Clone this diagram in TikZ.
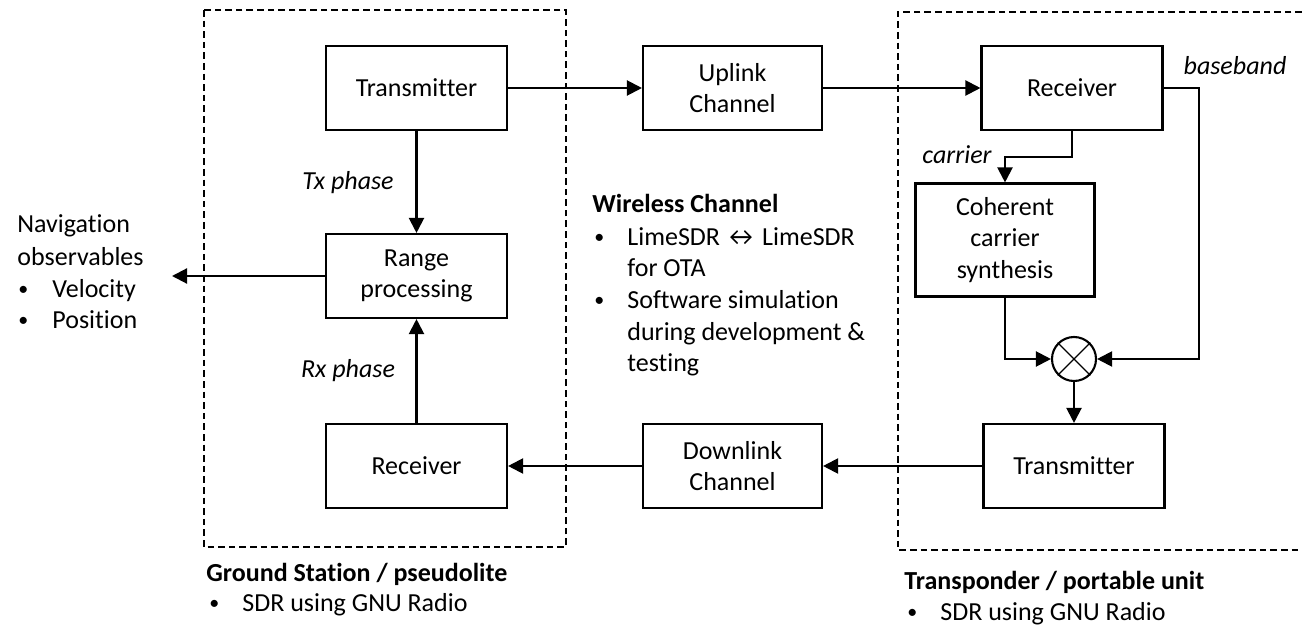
\documentclass[tikz,border=0pt]{standalone}
\usepackage{fontspec}
\setmainfont{Carlito}[Ligatures={NoCommon}]
\usetikzlibrary{arrows.meta}
\newcommand{\bul}{{\fontsize{10pt}{12pt}\selectfont\raisebox{0.6pt}{•}}}
\begin{document}
\begin{tikzpicture}[x=0.5pt,y=-0.5pt,
  every node/.style={font=\fontsize{13pt}{15.85pt}\selectfont, inner sep=0pt},
  blk/.style={draw, line width=1.05pt, minimum width=90.5pt, minimum height=42pt, align=center},
  txt/.style={anchor=base west},
  hd/.style={anchor=base west, font=\fontsize{13pt}{15.85pt}\selectfont\bfseries},
  lbl/.style={anchor=base, font=\fontsize{13pt}{15.85pt}\selectfont\itshape},
  conn/.style={line width=1.05pt},
  arr/.style={conn, -{Triangle[length=7.5pt,width=7.5pt]}},
  grp/.style={line width=0.8pt, dash pattern=on 3.3pt off 2pt},
]
\fill[white] (0,0) rectangle (1302,626);
\useasboundingbox (0,0) rectangle (1302,626);

% dashed enclosures: ground station and transponder
\draw[grp] (204,10) rectangle (566,547);
\draw[grp] (1302,12) -| (898,550) -- (1302,550);

% ground station blocks
\node[blk] (gtx) at (416.5,88) {Transmitter};
\node[blk] (rng) at (416.5,276) {Range\\processing};
\node[blk] (grx) at (416.5,466) {Receiver};

% channel blocks
\node[blk, minimum width=89.5pt] (upl) at (732.5,88) {Uplink\\Channel};
\node[blk, minimum width=89.5pt] (dnl) at (732.5,466) {Downlink\\Channel};

% transponder blocks
\node[blk] (trx) at (1072,88) {Receiver};
\node[blk, minimum width=89.5pt, minimum height=56.5pt] (coh) at (1005,240) {Coherent\\carrier\\synthesis};
\node[draw, circle, line width=1.05pt, minimum size=22pt] (mix) at (1074,359) {};
\draw[line width=0.6pt] (mix.45) -- (mix.225) (mix.135) -- (mix.315);
\node[blk] (ttx) at (1074,466) {Transmitter};

% signal flow
\draw[arr] (gtx) -- (upl);
\draw[arr] (upl) -- (trx);
\draw[arr] (gtx) -- (rng);
\draw[arr] (grx) -- (rng);
\coordinate (navtip) at (172,276);
\draw[arr] (rng.west) -- (navtip);
\draw[arr] (trx.south) -- ++(0,26) -| (coh.north);
\draw[arr] (trx.east) -- ++(35,0) |- (mix.east);
\draw[arr] (coh.south) |- (mix.west);
\draw[arr] (mix.south) -- (ttx.north);
\draw[arr] (ttx) -- (dnl);
\draw[arr] (dnl) -- (grx);

% signal labels
\node[lbl] (txph) at (348,190) {Tx phase};
\node[lbl] (rxph) at (348,377) {Rx phase};
\node[lbl] (carr) at (957,163) {carrier};
\node[lbl] (bb) at (1235,75) {baseband};

% navigation outputs
\node[txt] (nav1) at (17,233) {Navigation};
\node[txt] (nav2) at (17,265) {observables};
\node[txt] (navb1) at (18,297) {\bul};
\node[txt] (nav3) at (52,297) {Velocity};
\node[txt] (navb2) at (18,328) {\bul};
\node[txt] (nav4) at (52,328) {Position};

% wireless channel notes
\node[hd] (wl) at (592,213) {Wireless Channel};
\node[txt] (wlb1) at (594,245) {\bul};
\node[txt] (wl1) at (627,245) {LimeSDR\,↔\,LimeSDR};
\node[txt] (wl2) at (627,277) {for OTA};
\node[txt] (wlb2) at (594,308) {\bul};
\node[txt] (wl3) at (627,308) {Software simulation};
\node[txt] (wl4) at (627,340) {during development \&};
\node[txt] (wl5) at (627,371) {testing};

% group captions
\node[hd] (gs) at (206,581) {Ground Station / pseudolite};
\node[txt] (gsb) at (209,611) {\bul};
\node[txt] (gs1) at (242,611) {SDR using GNU Radio};
\node[hd] (tp) at (904,589) {Transponder / portable unit};
\node[txt] (tpb) at (907,620) {\bul};
\node[txt] (tp1) at (940,620) {SDR using GNU Radio};
\end{tikzpicture}
\end{document}
